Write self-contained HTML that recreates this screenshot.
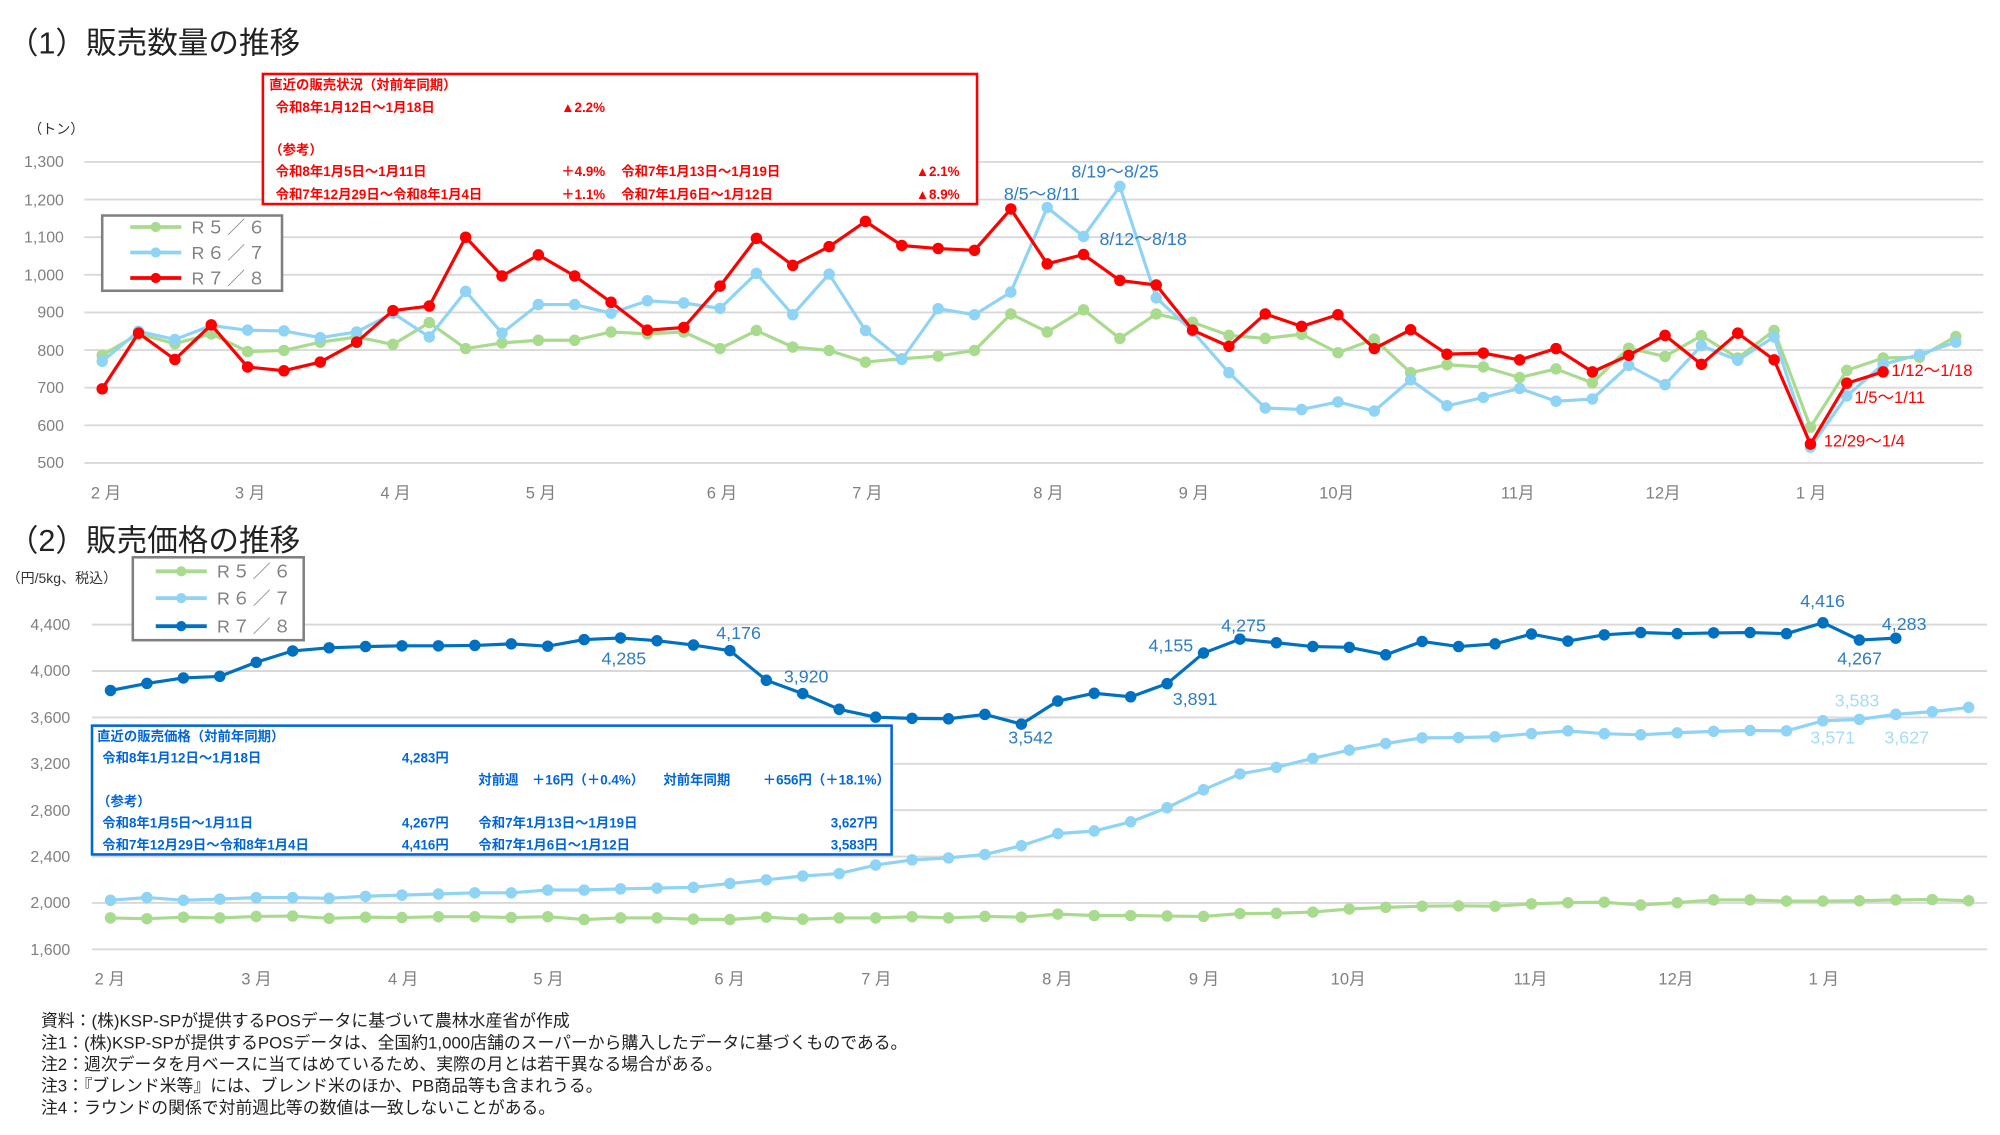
<!DOCTYPE html>
<html><head><meta charset="utf-8"><style>
html,body{margin:0;padding:0;background:#fff}
svg{display:block}
text{font-family:"Liberation Sans","Noto Sans CJK JP",sans-serif}
.t{font-size:24px;fill:#222}
.ax{font-size:12.5px;fill:#808080}
.mo{font-size:13px;fill:#808080}
.lg{font-size:14px;fill:#808080;letter-spacing:2px}
.rb{font-size:10.5px;fill:#FF0000;font-weight:bold}
.bb{font-size:10.5px;fill:#0066DD;font-weight:bold}
.dl{font-size:14px;fill:#2E7DC4}
.dr{font-size:13px;fill:#FF0000}
.fn{font-size:13.2px;fill:#222}
</style></head><body>
<svg id="s" width="2000" height="1135" viewBox="0 0 1568 890" xmlns="http://www.w3.org/2000/svg">
<text class="t" x="6" y="42">（1）販売数量の推移</text>
<text class="ax" x="22" y="105" style="font-size:11px;fill:#333">（トン）</text>
<g id="g1"></g>
<g class="ax" text-anchor="end">
<text x="50" y="131">1,300</text><text x="50" y="161">1,200</text><text x="50" y="190">1,100</text><text x="50" y="220">1,000</text>
<text x="50" y="249">900</text><text x="50" y="279">800</text><text x="50" y="308">700</text><text x="50" y="338">600</text><text x="50" y="367">500</text>
</g>
<g class="mo" text-anchor="middle">
<text x="83" y="391">2 月</text><text x="196" y="391">3 月</text><text x="310" y="391">4 月</text><text x="424" y="391">5 月</text><text x="566" y="391">6 月</text><text x="680" y="391">7 月</text><text x="822" y="391">8 月</text><text x="936" y="391">9 月</text><text x="1048" y="391">10月</text><text x="1190" y="391">11月</text><text x="1304" y="391">12月</text><text x="1420" y="391">1 月</text>
</g>
<g id="s1"></g>
<rect x="80" y="169" width="141" height="59" fill="#fff" stroke="#808080" stroke-width="2"/>
<line x1="102" y1="178" x2="142" y2="178" stroke="#A9DB8E" stroke-width="3"/><circle cx="122" cy="178" r="4" fill="#A9DB8E"/>
<line x1="102" y1="198" x2="142" y2="198" stroke="#8FD3F5" stroke-width="3"/><circle cx="122" cy="198" r="4" fill="#8FD3F5"/>
<line x1="102" y1="218" x2="142" y2="218" stroke="#FF0000" stroke-width="3"/><circle cx="122" cy="218" r="4" fill="#FF0000"/>
<text class="lg" x="150" y="183">R５／６</text><text class="lg" x="150" y="203">R６／７</text><text class="lg" x="150" y="223">R７／８</text>
<rect x="206" y="58" width="560" height="102" fill="#fff" stroke="#FF0000" stroke-width="2"/>
<g class="rb">
<text x="211" y="70">直近の販売状況（対前年同期）</text>
<text x="216" y="88">令和8年1月12日～1月18日</text><text x="440" y="88">▲2.2%</text>
<text x="211" y="121">（参考）</text>
<text x="216" y="138">令和8年1月5日～1月11日</text><text x="440" y="138">＋4.9%</text><text x="487" y="138">令和7年1月13日～1月19日</text><text x="718" y="138">▲2.1%</text>
<text x="216" y="156">令和7年12月29日～令和8年1月4日</text><text x="440" y="156">＋1.1%</text><text x="487" y="156">令和7年1月6日～1月12日</text><text x="718" y="156">▲8.9%</text>
</g>
<g class="dl"><text x="787" y="157">8/5～8/11</text><text x="840" y="139">8/19～8/25</text><text x="862" y="192">8/12～8/18</text></g>
<g class="dr"><text x="1483" y="295">1/12～1/18</text><text x="1454" y="316">1/5～1/11</text><text x="1430" y="350">12/29～1/4</text></g>

<text class="t" x="6" y="432">（2）販売価格の推移</text>
<text x="5" y="457" style="font-size:11px;fill:#333">（円/5kg、税込）</text>
<g id="g2"></g>
<g class="ax" text-anchor="end">
<text x="55" y="494">4,400</text><text x="55" y="530">4,000</text><text x="55" y="567">3,600</text><text x="55" y="603">3,200</text>
<text x="55" y="640">2,800</text><text x="55" y="676">2,400</text><text x="55" y="712">2,000</text><text x="55" y="749">1,600</text>
</g>
<g class="mo" text-anchor="middle">
<text x="86" y="772">2 月</text><text x="201" y="772">3 月</text><text x="316" y="772">4 月</text><text x="430" y="772">5 月</text><text x="572" y="772">6 月</text><text x="687" y="772">7 月</text><text x="829" y="772">8 月</text><text x="944" y="772">9 月</text><text x="1057" y="772">10月</text><text x="1200" y="772">11月</text><text x="1314" y="772">12月</text><text x="1430" y="772">1 月</text>
</g>
<g id="s2"></g>
<rect x="104" y="437" width="134" height="65" fill="#fff" stroke="#808080" stroke-width="2"/>
<line x1="122" y1="448" x2="162" y2="448" stroke="#A9DB8E" stroke-width="3"/><circle cx="142" cy="448" r="4" fill="#A9DB8E"/>
<line x1="122" y1="469" x2="162" y2="469" stroke="#8FD3F5" stroke-width="3"/><circle cx="142" cy="469" r="4" fill="#8FD3F5"/>
<line x1="122" y1="491" x2="162" y2="491" stroke="#0070C0" stroke-width="3"/><circle cx="142" cy="491" r="4" fill="#0070C0"/>
<text class="lg" x="170" y="453">R５／６</text><text class="lg" x="170" y="474">R６／７</text><text class="lg" x="170" y="496">R７／８</text>
<rect x="72" y="569" width="627" height="101" fill="#fff" stroke="#0066DD" stroke-width="2"/>
<g class="bb">
<text x="76" y="581">直近の販売価格（対前年同期）</text>
<text x="80" y="598">令和8年1月12日～1月18日</text><text x="315" y="598">4,283円</text>
<text x="375" y="615">対前週　＋16円（＋0.4%）</text><text x="520" y="615">対前年同期</text><text x="598" y="615">＋656円（＋18.1%）</text>
<text x="76" y="632">（参考）</text>
<text x="80" y="649">令和8年1月5日～1月11日</text><text x="315" y="649">4,267円</text><text x="375" y="649">令和7年1月13日～1月19日</text><text x="688" y="649" text-anchor="end">3,627円</text>
<text x="80" y="666">令和7年12月29日～令和8年1月4日</text><text x="315" y="666">4,416円</text><text x="375" y="666">令和7年1月6日～1月12日</text><text x="688" y="666" text-anchor="end">3,583円</text>
</g>
<g class="dl" text-anchor="middle">
<text x="489" y="521">4,285</text><text x="579" y="501">4,176</text><text x="632" y="535">3,920</text><text x="808" y="583">3,542</text>
<text x="918" y="511">4,155</text><text x="937" y="553">3,891</text><text x="975" y="495">4,275</text>
<text x="1429" y="476">4,416</text><text x="1458" y="521">4,267</text><text x="1493" y="494">4,283</text>
</g>
<g class="dl" text-anchor="middle" style="fill:#A6DCF6">
<text x="1456" y="554">3,583</text><text x="1437" y="583">3,571</text><text x="1495" y="583">3,627</text>
</g>
<g class="fn">
<text x="32" y="805">資料：(株)KSP-SPが提供するPOSデータに基づいて農林水産省が作成</text>
<text x="32" y="822">注1：(株)KSP-SPが提供するPOSデータは、全国約1,000店舗のスーパーから購入したデータに基づくものである。</text>
<text x="32" y="839">注2：週次データを月ベースに当てはめているため、実際の月とは若干異なる場合がある。</text>
<text x="32" y="856">注3：『ブレンド米等』には、ブレンド米のほか、PB商品等も含まれうる。</text>
<text x="32" y="873">注4：ラウンドの関係で対前週比等の数値は一致しないことがある。</text>
</g>
</svg>
<script>
var NS="http://www.w3.org/2000/svg";
function el(p,n,a){var e=document.createElementNS(NS,n);for(var k in a)e.setAttribute(k,a[k]);p.appendChild(e);return e;}
var g1=document.getElementById('g1'),g2=document.getElementById('g2');
for(var i=0;i<9;i++){var y=127+i*29.5;el(g1,'line',{x1:66,x2:1555,y1:y,y2:y,stroke:'#D9D9D9','stroke-width':1.5});}
for(var i=0;i<8;i++){var y=489.8+i*36.37;el(g2,'line',{x1:72,x2:1558,y1:y,y2:y,stroke:'#D9D9D9','stroke-width':1.5});}
function series(gid,data,x0,dx,fy,col,w,r){
 var g=document.getElementById(gid),pts=[];
 data.forEach(function(v,i){pts.push((x0+i*dx).toFixed(1)+','+fy(v).toFixed(1));});
 el(g,'polyline',{points:pts.join(' '),fill:'none',stroke:col,'stroke-width':w,'stroke-linejoin':'round'});
 data.forEach(function(v,i){el(g,'circle',{cx:x0+i*dx,cy:fy(v),r:r,fill:col});});
}
var f1=function(v){return 363-(v-500)*0.295;};
var f2=function(v){return 744.4-(v-1600)*0.09093;};
var G1=[786,843,817,843,796,799,821,835,815,873,804,819,826,826,848,843,848,804,852,808,799,768,777,784,799,896,848,907,831,896,874,839,831,842,793,829,740,761,755,727,750,713,805,783,838,779,852,595,746,779,781,836];
var B1=[770,850,828,865,853,851,833,848,898,835,956,845,921,921,898,931,925,911,1004,894,1002,852,775,910,894,954,1179,1102,1235,939,850,740,646,642,662,638,721,652,674,698,664,670,759,708,812,773,835,542,678,762,788,821];
var R1=[697,845,775,867,755,745,768,821,905,917,1100,997,1053,997,927,853,860,970,1097,1025,1075,1142,1078,1070,1065,1175,1029,1054,985,973,853,810,896,863,894,804,854,789,792,774,804,742,786,839,762,845,774,550,712,742];
series('s1',G1,80,28.5,f1,'#A9DB8E',2.5,4.5);
series('s1',B1,80,28.5,f1,'#8FD3F5',2.5,4.5);
series('s1',R1,80,28.5,f1,'#FF0000',2.5,4.5);
var G2=[1871,1864,1877,1871,1884,1887,1867,1877,1874,1881,1881,1874,1881,1857,1871,1871,1860,1857,1877,1860,1871,1871,1881,1871,1884,1877,1904,1891,1891,1887,1884,1908,1911,1921,1948,1962,1972,1975,1972,1992,2002,2006,1982,2002,2026,2026,2016,2016,2019,2026,2029,2019];
var B2=[2023,2046,2023,2033,2046,2046,2040,2057,2067,2077,2087,2087,2111,2111,2121,2128,2134,2168,2199,2232,2253,2327,2371,2388,2418,2493,2598,2621,2699,2821,2976,3112,3169,3247,3318,3375,3423,3426,3433,3460,3484,3460,3450,3467,3480,3487,3484,3571,3583,3627,3649,3686];
var D2=[3832,3893,3940,3954,4075,4173,4200,4211,4217,4217,4221,4234,4214,4271,4285,4261,4224,4176,3920,3805,3670,3602,3592,3588,3626,3542,3741,3808,3778,3891,4155,4275,4244,4211,4204,4140,4255,4211,4234,4319,4258,4312,4332,4322,4329,4332,4322,4416,4267,4283];
series('s2',G2,86.5,28.57,f2,'#A9DB8E',2.5,4.5);
series('s2',B2,86.5,28.57,f2,'#8FD3F5',2.5,4.5);
series('s2',D2,86.5,28.57,f2,'#0070C0',2.5,4.5);
</script>
</body></html>
